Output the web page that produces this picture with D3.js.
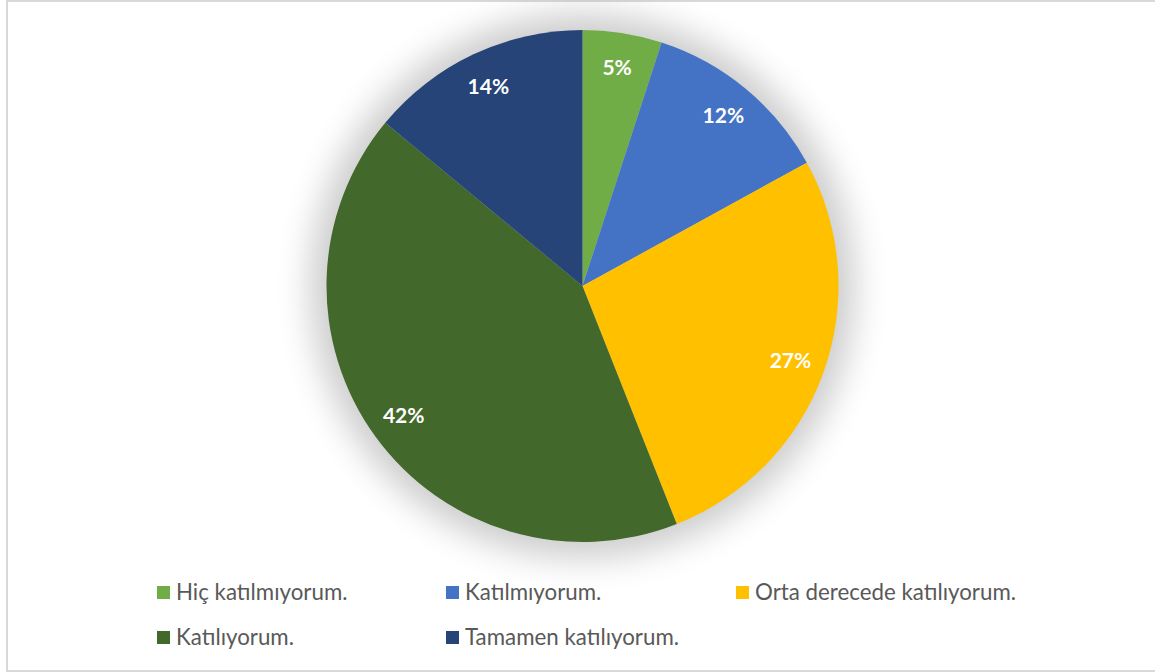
<!DOCTYPE html>
<html><head><meta charset="utf-8">
<script src="https://cdn.jsdelivr.net/npm/d3@7"></script>
<style>body{margin:0;background:#fff;}svg{display:block;}</style>
</head><body>
<script>
const categories = ["Hiç katılmıyorum.", "Katılmıyorum.", "Orta derecede katılıyorum.", "Katılıyorum.", "Tamamen katılıyorum."];
const values = [5, 12, 27, 42, 14];
const colors = ["#70ad47", "#4472c4", "#ffc000", "#43682b", "#264478"];

const W = 1155, H = 672;
const cx = 582.5, cy = 286, R = 256;
const svg = d3.select("body").append("svg").attr("width", W).attr("height", H);

svg.append("rect").attr("x", 7).attr("y", 1).attr("width", W + 10).attr("height", H - 2)
  .attr("fill", "#fff").attr("stroke", "#d9d9d9").attr("stroke-width", 2);

const defs = svg.append("defs");
const f = defs.append("filter").attr("id", "glow").attr("x", "-30%").attr("y", "-30%").attr("width", "160%").attr("height", "160%");
f.append("feGaussianBlur").attr("in", "SourceGraphic").attr("stdDeviation", 17);

const g = svg.append("g").attr("transform", `translate(${cx},${cy})`);
g.append("circle").attr("r", R + 16).attr("fill", "#000").attr("opacity", 0.2).attr("filter", "url(#glow)");

const pie = d3.pie().sort(null).value(d => d)(values);
const arc = d3.arc().innerRadius(0).outerRadius(R);
g.selectAll("path.s").data(pie).enter().append("path").attr("class", "s")
  .attr("d", arc).attr("fill", (d, i) => colors[i]);

const labelArc = d3.arc().innerRadius(221).outerRadius(221);
g.selectAll("text.l").data(pie).enter().append("text").attr("class", "l")
  .attr("transform", d => `translate(${labelArc.centroid(d)})`)
  .attr("text-anchor", "middle").attr("dy", "0.36em")
  .attr("fill", "#fff").attr("font-family", "Lato, 'Open Sans', sans-serif")
  .attr("font-weight", "bold").attr("font-size", 21)
  .text(d => d.data + "%");

const legendPos = [[157, 586], [446, 586], [736, 586], [157, 631], [446, 631]];
const lg = svg.append("g");
categories.forEach((c, i) => {
  const [x, y] = legendPos[i];
  lg.append("rect").attr("x", x).attr("y", y).attr("width", 13).attr("height", 13).attr("fill", colors[i]);
  lg.append("text").attr("x", x + 19).attr("y", y + 14)
    .attr("font-family", "Lato, 'Open Sans', sans-serif").attr("font-size", 22.3)
    .attr("fill", "#595959").text(c);
});
</script>
</body></html>
